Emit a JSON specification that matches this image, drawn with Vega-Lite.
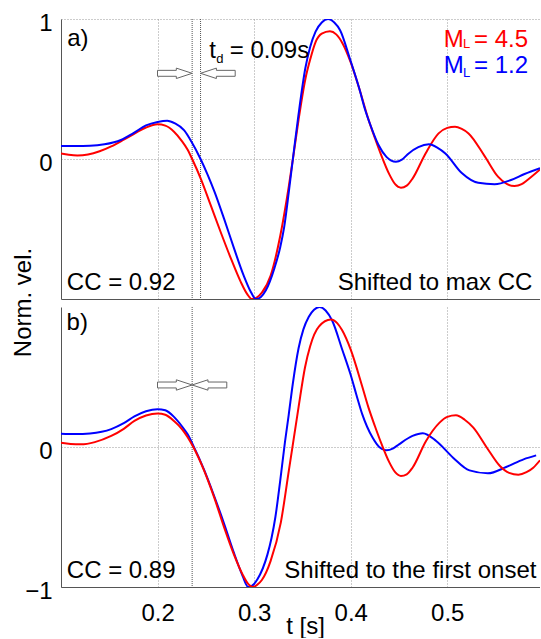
{
  "$schema": "https://vega.github.io/schema/vega-lite/v6.json",
  "padding": {"left": 11, "top": 11, "right": 0, "bottom": 0},
  "spacing": 8,
  "bounds": "flush",
  "config": {
    "view": {"stroke": null},
    "font": "Liberation Sans",
    "axis": {
      "labelFont": "Liberation Sans", "titleFont": "Liberation Sans",
      "labelFontSize": 24, "titleFontSize": 24, "labelColor": "#000", "titleColor": "#000",
      "titleFontWeight": "normal", "domainColor": "#555", "domainWidth": 1, "tickSize": 0,
      "gridColor": "#999", "gridDash": [1, 2], "gridWidth": 1
    },
    "text": {"font": "Liberation Sans", "fontSize": 24}
  },
  "datasets": {
    "curves": [
      {"panel":"a","series":"M_L = 4.5","t":0.100,"v":0.040},{"panel":"a","series":"M_L = 4.5","t":0.108,"v":0.030},{"panel":"a","series":"M_L = 4.5","t":0.117,"v":0.025},{"panel":"a","series":"M_L = 4.5","t":0.128,"v":0.032},{"panel":"a","series":"M_L = 4.5","t":0.140,"v":0.055},{"panel":"a","series":"M_L = 4.5","t":0.152,"v":0.090},{"panel":"a","series":"M_L = 4.5","t":0.165,"v":0.138},{"panel":"a","series":"M_L = 4.5","t":0.177,"v":0.185},{"panel":"a","series":"M_L = 4.5","t":0.188,"v":0.225},{"panel":"a","series":"M_L = 4.5","t":0.200,"v":0.248},{"panel":"a","series":"M_L = 4.5","t":0.208,"v":0.238},{"panel":"a","series":"M_L = 4.5","t":0.217,"v":0.195},{"panel":"a","series":"M_L = 4.5","t":0.225,"v":0.130},{"panel":"a","series":"M_L = 4.5","t":0.231,"v":0.068},{"panel":"a","series":"M_L = 4.5","t":0.2358,"v":0.0},{"panel":"a","series":"M_L = 4.5","t":0.245,"v":-0.145},{"panel":"a","series":"M_L = 4.5","t":0.255,"v":-0.330},{"panel":"a","series":"M_L = 4.5","t":0.2655,"v":-0.525},{"panel":"a","series":"M_L = 4.5","t":0.276,"v":-0.712},{"panel":"a","series":"M_L = 4.5","t":0.286,"v":-0.876},{"panel":"a","series":"M_L = 4.5","t":0.293,"v":-0.967},{"panel":"a","series":"M_L = 4.5","t":0.2976,"v":-1.0},{"panel":"a","series":"M_L = 4.5","t":0.303,"v":-0.988},{"panel":"a","series":"M_L = 4.5","t":0.308,"v":-0.955},{"panel":"a","series":"M_L = 4.5","t":0.317,"v":-0.835},{"panel":"a","series":"M_L = 4.5","t":0.327,"v":-0.550},{"panel":"a","series":"M_L = 4.5","t":0.336,"v":-0.190},{"panel":"a","series":"M_L = 4.5","t":0.341,"v":0.040},{"panel":"a","series":"M_L = 4.5","t":0.346,"v":0.280},{"panel":"a","series":"M_L = 4.5","t":0.353,"v":0.570},{"panel":"a","series":"M_L = 4.5","t":0.358,"v":0.710},{"panel":"a","series":"M_L = 4.5","t":0.3636,"v":0.835},{"panel":"a","series":"M_L = 4.5","t":0.370,"v":0.895},{"panel":"a","series":"M_L = 4.5","t":0.3785,"v":0.912},{"panel":"a","series":"M_L = 4.5","t":0.385,"v":0.890},{"panel":"a","series":"M_L = 4.5","t":0.392,"v":0.820},{"panel":"a","series":"M_L = 4.5","t":0.400,"v":0.690},{"panel":"a","series":"M_L = 4.5","t":0.409,"v":0.500},{"panel":"a","series":"M_L = 4.5","t":0.418,"v":0.290},{"panel":"a","series":"M_L = 4.5","t":0.425,"v":0.150},{"panel":"a","series":"M_L = 4.5","t":0.432,"v":0.020},{"panel":"a","series":"M_L = 4.5","t":0.440,"v":-0.110},{"panel":"a","series":"M_L = 4.5","t":0.446,"v":-0.180},{"panel":"a","series":"M_L = 4.5","t":0.452,"v":-0.205},{"panel":"a","series":"M_L = 4.5","t":0.458,"v":-0.190},{"panel":"a","series":"M_L = 4.5","t":0.464,"v":-0.140},{"panel":"a","series":"M_L = 4.5","t":0.4775,"v":0.040},{"panel":"a","series":"M_L = 4.5","t":0.491,"v":0.183},{"panel":"a","series":"M_L = 4.5","t":0.500,"v":0.222},{"panel":"a","series":"M_L = 4.5","t":0.508,"v":0.231},{"panel":"a","series":"M_L = 4.5","t":0.515,"v":0.215},{"panel":"a","series":"M_L = 4.5","t":0.522,"v":0.183},{"panel":"a","series":"M_L = 4.5","t":0.539,"v":0.017},{"panel":"a","series":"M_L = 4.5","t":0.5525,"v":-0.126},{"panel":"a","series":"M_L = 4.5","t":0.562,"v":-0.180},{"panel":"a","series":"M_L = 4.5","t":0.5696,"v":-0.193},{"panel":"a","series":"M_L = 4.5","t":0.577,"v":-0.180},{"panel":"a","series":"M_L = 4.5","t":0.583,"v":-0.150},{"panel":"a","series":"M_L = 4.5","t":0.596,"v":-0.075},
      {"panel":"a","series":"M_L = 1.2","t":0.100,"v":0.093},{"panel":"a","series":"M_L = 1.2","t":0.115,"v":0.092},{"panel":"a","series":"M_L = 1.2","t":0.130,"v":0.094},{"panel":"a","series":"M_L = 1.2","t":0.145,"v":0.105},{"panel":"a","series":"M_L = 1.2","t":0.162,"v":0.136},{"panel":"a","series":"M_L = 1.2","t":0.175,"v":0.185},{"panel":"a","series":"M_L = 1.2","t":0.188,"v":0.240},{"panel":"a","series":"M_L = 1.2","t":0.200,"v":0.265},{"panel":"a","series":"M_L = 1.2","t":0.210,"v":0.274},{"panel":"a","series":"M_L = 1.2","t":0.218,"v":0.255},{"panel":"a","series":"M_L = 1.2","t":0.2276,"v":0.205},{"panel":"a","series":"M_L = 1.2","t":0.235,"v":0.125},{"panel":"a","series":"M_L = 1.2","t":0.2445,"v":0.0},{"panel":"a","series":"M_L = 1.2","t":0.252,"v":-0.115},{"panel":"a","series":"M_L = 1.2","t":0.259,"v":-0.235},{"panel":"a","series":"M_L = 1.2","t":0.269,"v":-0.430},{"panel":"a","series":"M_L = 1.2","t":0.279,"v":-0.635},{"panel":"a","series":"M_L = 1.2","t":0.289,"v":-0.830},{"panel":"a","series":"M_L = 1.2","t":0.2966,"v":-0.950},{"panel":"a","series":"M_L = 1.2","t":0.3017,"v":-1.0},{"panel":"a","series":"M_L = 1.2","t":0.307,"v":-0.985},{"panel":"a","series":"M_L = 1.2","t":0.312,"v":-0.940},{"panel":"a","series":"M_L = 1.2","t":0.321,"v":-0.780},{"panel":"a","series":"M_L = 1.2","t":0.327,"v":-0.630},{"panel":"a","series":"M_L = 1.2","t":0.331,"v":-0.490},{"panel":"a","series":"M_L = 1.2","t":0.336,"v":-0.230},{"panel":"a","series":"M_L = 1.2","t":0.341,"v":0.050},{"panel":"a","series":"M_L = 1.2","t":0.346,"v":0.320},{"panel":"a","series":"M_L = 1.2","t":0.353,"v":0.648},{"panel":"a","series":"M_L = 1.2","t":0.358,"v":0.800},{"panel":"a","series":"M_L = 1.2","t":0.3636,"v":0.910},{"panel":"a","series":"M_L = 1.2","t":0.370,"v":0.975},{"panel":"a","series":"M_L = 1.2","t":0.3765,"v":1.0},{"panel":"a","series":"M_L = 1.2","t":0.383,"v":0.975},{"panel":"a","series":"M_L = 1.2","t":0.389,"v":0.920},{"panel":"a","series":"M_L = 1.2","t":0.399,"v":0.720},{"panel":"a","series":"M_L = 1.2","t":0.409,"v":0.500},{"panel":"a","series":"M_L = 1.2","t":0.415,"v":0.350},{"panel":"a","series":"M_L = 1.2","t":0.420,"v":0.250},{"panel":"a","series":"M_L = 1.2","t":0.4288,"v":0.100},{"panel":"a","series":"M_L = 1.2","t":0.437,"v":0.015},{"panel":"a","series":"M_L = 1.2","t":0.4468,"v":-0.020},{"panel":"a","series":"M_L = 1.2","t":0.453,"v":-0.005},{"panel":"a","series":"M_L = 1.2","t":0.460,"v":0.040},{"panel":"a","series":"M_L = 1.2","t":0.470,"v":0.085},{"panel":"a","series":"M_L = 1.2","t":0.481,"v":0.105},{"panel":"a","series":"M_L = 1.2","t":0.490,"v":0.080},{"panel":"a","series":"M_L = 1.2","t":0.498,"v":0.040},{"panel":"a","series":"M_L = 1.2","t":0.515,"v":-0.100},{"panel":"a","series":"M_L = 1.2","t":0.532,"v":-0.170},{"panel":"a","series":"M_L = 1.2","t":0.549,"v":-0.180},{"panel":"a","series":"M_L = 1.2","t":0.566,"v":-0.150},{"panel":"a","series":"M_L = 1.2","t":0.580,"v":-0.107},{"panel":"a","series":"M_L = 1.2","t":0.596,"v":-0.065},
      {"panel":"b","series":"M_L = 1.2","t":0.100,"v":0.095},{"panel":"b","series":"M_L = 1.2","t":0.115,"v":0.092},{"panel":"b","series":"M_L = 1.2","t":0.130,"v":0.097},{"panel":"b","series":"M_L = 1.2","t":0.152,"v":0.128},{"panel":"b","series":"M_L = 1.2","t":0.165,"v":0.170},{"panel":"b","series":"M_L = 1.2","t":0.176,"v":0.218},{"panel":"b","series":"M_L = 1.2","t":0.188,"v":0.255},{"panel":"b","series":"M_L = 1.2","t":0.200,"v":0.270},{"panel":"b","series":"M_L = 1.2","t":0.208,"v":0.262},{"panel":"b","series":"M_L = 1.2","t":0.217,"v":0.215},{"panel":"b","series":"M_L = 1.2","t":0.225,"v":0.150},{"panel":"b","series":"M_L = 1.2","t":0.231,"v":0.092},{"panel":"b","series":"M_L = 1.2","t":0.237,"v":0.010},{"panel":"b","series":"M_L = 1.2","t":0.248,"v":-0.160},{"panel":"b","series":"M_L = 1.2","t":0.2586,"v":-0.350},{"panel":"b","series":"M_L = 1.2","t":0.269,"v":-0.550},{"panel":"b","series":"M_L = 1.2","t":0.279,"v":-0.755},{"panel":"b","series":"M_L = 1.2","t":0.288,"v":-0.920},{"panel":"b","series":"M_L = 1.2","t":0.2938,"v":-1.0},{"panel":"b","series":"M_L = 1.2","t":0.298,"v":-0.990},{"panel":"b","series":"M_L = 1.2","t":0.3034,"v":-0.945},{"panel":"b","series":"M_L = 1.2","t":0.3138,"v":-0.767},{"panel":"b","series":"M_L = 1.2","t":0.318,"v":-0.650},{"panel":"b","series":"M_L = 1.2","t":0.322,"v":-0.500},{"panel":"b","series":"M_L = 1.2","t":0.327,"v":-0.240},{"panel":"b","series":"M_L = 1.2","t":0.332,"v":0.040},{"panel":"b","series":"M_L = 1.2","t":0.3358,"v":0.230},{"panel":"b","series":"M_L = 1.2","t":0.340,"v":0.450},{"panel":"b","series":"M_L = 1.2","t":0.346,"v":0.705},{"panel":"b","series":"M_L = 1.2","t":0.351,"v":0.840},{"panel":"b","series":"M_L = 1.2","t":0.3566,"v":0.930},{"panel":"b","series":"M_L = 1.2","t":0.362,"v":0.980},{"panel":"b","series":"M_L = 1.2","t":0.3677,"v":1.0},{"panel":"b","series":"M_L = 1.2","t":0.374,"v":0.975},{"panel":"b","series":"M_L = 1.2","t":0.381,"v":0.900},{"panel":"b","series":"M_L = 1.2","t":0.391,"v":0.700},{"panel":"b","series":"M_L = 1.2","t":0.400,"v":0.514},{"panel":"b","series":"M_L = 1.2","t":0.406,"v":0.370},{"panel":"b","series":"M_L = 1.2","t":0.412,"v":0.233},{"panel":"b","series":"M_L = 1.2","t":0.4226,"v":0.067},{"panel":"b","series":"M_L = 1.2","t":0.4295,"v":0.0},{"panel":"b","series":"M_L = 1.2","t":0.437,"v":-0.024},{"panel":"b","series":"M_L = 1.2","t":0.444,"v":-0.010},{"panel":"b","series":"M_L = 1.2","t":0.450,"v":0.019},{"panel":"b","series":"M_L = 1.2","t":0.464,"v":0.079},{"panel":"b","series":"M_L = 1.2","t":0.4747,"v":0.098},{"panel":"b","series":"M_L = 1.2","t":0.4885,"v":0.043},{"panel":"b","series":"M_L = 1.2","t":0.506,"v":-0.076},{"panel":"b","series":"M_L = 1.2","t":0.523,"v":-0.167},{"panel":"b","series":"M_L = 1.2","t":0.542,"v":-0.188},{"panel":"b","series":"M_L = 1.2","t":0.561,"v":-0.143},{"panel":"b","series":"M_L = 1.2","t":0.579,"v":-0.088},{"panel":"b","series":"M_L = 1.2","t":0.592,"v":-0.060},
      {"panel":"b","series":"M_L = 4.5","t":0.100,"v":0.031},{"panel":"b","series":"M_L = 4.5","t":0.110,"v":0.022},{"panel":"b","series":"M_L = 4.5","t":0.1207,"v":0.019},{"panel":"b","series":"M_L = 4.5","t":0.135,"v":0.035},{"panel":"b","series":"M_L = 4.5","t":0.152,"v":0.079},{"panel":"b","series":"M_L = 4.5","t":0.165,"v":0.130},{"panel":"b","series":"M_L = 4.5","t":0.176,"v":0.186},{"panel":"b","series":"M_L = 4.5","t":0.188,"v":0.225},{"panel":"b","series":"M_L = 4.5","t":0.200,"v":0.240},{"panel":"b","series":"M_L = 4.5","t":0.208,"v":0.230},{"panel":"b","series":"M_L = 4.5","t":0.217,"v":0.186},{"panel":"b","series":"M_L = 4.5","t":0.225,"v":0.130},{"panel":"b","series":"M_L = 4.5","t":0.231,"v":0.072},{"panel":"b","series":"M_L = 4.5","t":0.237,"v":0.0},{"panel":"b","series":"M_L = 4.5","t":0.248,"v":-0.165},{"panel":"b","series":"M_L = 4.5","t":0.2586,"v":-0.360},{"panel":"b","series":"M_L = 4.5","t":0.269,"v":-0.576},{"panel":"b","series":"M_L = 4.5","t":0.279,"v":-0.767},{"panel":"b","series":"M_L = 4.5","t":0.288,"v":-0.910},{"panel":"b","series":"M_L = 4.5","t":0.294,"v":-0.980},{"panel":"b","series":"M_L = 4.5","t":0.2983,"v":-1.0},{"panel":"b","series":"M_L = 4.5","t":0.303,"v":-0.985},{"panel":"b","series":"M_L = 4.5","t":0.308,"v":-0.950},{"panel":"b","series":"M_L = 4.5","t":0.317,"v":-0.815},{"panel":"b","series":"M_L = 4.5","t":0.3276,"v":-0.540},{"panel":"b","series":"M_L = 4.5","t":0.336,"v":-0.165},{"panel":"b","series":"M_L = 4.5","t":0.341,"v":0.060},{"panel":"b","series":"M_L = 4.5","t":0.346,"v":0.285},{"panel":"b","series":"M_L = 4.5","t":0.3527,"v":0.570},{"panel":"b","series":"M_L = 4.5","t":0.358,"v":0.720},{"panel":"b","series":"M_L = 4.5","t":0.367,"v":0.860},{"panel":"b","series":"M_L = 4.5","t":0.3795,"v":0.910},{"panel":"b","series":"M_L = 4.5","t":0.386,"v":0.885},{"panel":"b","series":"M_L = 4.5","t":0.391,"v":0.835},{"panel":"b","series":"M_L = 4.5","t":0.400,"v":0.695},{"panel":"b","series":"M_L = 4.5","t":0.412,"v":0.430},{"panel":"b","series":"M_L = 4.5","t":0.418,"v":0.290},{"panel":"b","series":"M_L = 4.5","t":0.425,"v":0.150},{"panel":"b","series":"M_L = 4.5","t":0.432,"v":0.020},{"panel":"b","series":"M_L = 4.5","t":0.440,"v":-0.110},{"panel":"b","series":"M_L = 4.5","t":0.446,"v":-0.180},{"panel":"b","series":"M_L = 4.5","t":0.452,"v":-0.207},{"panel":"b","series":"M_L = 4.5","t":0.458,"v":-0.195},{"panel":"b","series":"M_L = 4.5","t":0.464,"v":-0.148},{"panel":"b","series":"M_L = 4.5","t":0.478,"v":0.043},{"panel":"b","series":"M_L = 4.5","t":0.492,"v":0.174},{"panel":"b","series":"M_L = 4.5","t":0.500,"v":0.215},{"panel":"b","series":"M_L = 4.5","t":0.509,"v":0.226},{"panel":"b","series":"M_L = 4.5","t":0.518,"v":0.195},{"panel":"b","series":"M_L = 4.5","t":0.527,"v":0.138},{"panel":"b","series":"M_L = 4.5","t":0.541,"v":-0.005},{"panel":"b","series":"M_L = 4.5","t":0.5545,"v":-0.136},{"panel":"b","series":"M_L = 4.5","t":0.564,"v":-0.185},{"panel":"b","series":"M_L = 4.5","t":0.5736,"v":-0.198},{"panel":"b","series":"M_L = 4.5","t":0.582,"v":-0.180},{"panel":"b","series":"M_L = 4.5","t":0.589,"v":-0.148},{"panel":"b","series":"M_L = 4.5","t":0.596,"v":-0.095}
    ],
    "markers": [
      {"panel":"a","t":0.2358},{"panel":"a","t":0.2445},{"panel":"b","t":0.2358}
    ],
    "arrows": [
      {"panel":"a","dir":"right","t":0.2358,"v":0.612},{"panel":"a","dir":"left","t":0.2445,"v":0.612},
      {"panel":"b","dir":"right","t":0.2358,"v":0.443},{"panel":"b","dir":"left","t":0.2358,"v":0.443}
    ],
    "texts": [
      {"panel":"a","series":"note","t":0.1065,"v":0.807,"label":"a)"},
      {"panel":"a","series":"note","t":0.2534,"v":0.719,"label":"t"},
      {"panel":"a","series":"note","t":0.2748,"v":0.719,"label":"= 0.09s"},
      {"panel":"a","series":"M_L = 4.5","t":0.4964,"v":0.802,"label":"M"},
      {"panel":"a","series":"M_L = 4.5","t":0.5276,"v":0.802,"label":"= 4.5"},
      {"panel":"a","series":"M_L = 1.2","t":0.4964,"v":0.612,"label":"M"},
      {"panel":"a","series":"M_L = 1.2","t":0.5276,"v":0.612,"label":"= 1.2"},
      {"panel":"a","series":"note","t":0.106,"v":-0.936,"label":"CC = 0.92"},
      {"panel":"a","series":"note","t":0.3865,"v":-0.936,"label":"Shifted to max CC"},
      {"panel":"b","series":"note","t":0.1058,"v":0.836,"label":"b)"},
      {"panel":"b","series":"note","t":0.106,"v":-0.938,"label":"CC = 0.89"},
      {"panel":"b","series":"note","t":0.3312,"v":-0.938,"label":"Shifted to the first onset"}
    ],
    "subs": [
      {"panel":"a","series":"note","t":0.2608,"v":0.686,"label":"d"},
      {"panel":"a","series":"M_L = 4.5","t":0.5162,"v":0.791,"label":"L"},
      {"panel":"a","series":"M_L = 1.2","t":0.5162,"v":0.588,"label":"L"}
    ]
  },
  "vconcat": [
    {
      "width": 479, "height": 280,
      "layer": [
        {
          "data": {"name": "markers"},
          "transform": [{"filter": "datum.panel == 'a'"}],
          "mark": {"type": "rule", "color": "#555", "strokeDash": [1, 1], "strokeWidth": 1},
          "encoding": {
            "x": {"field": "t", "type": "quantitative", "scale": {"domain": [0.1, 0.596], "nice": false, "zero": false},
                  "axis": {"values": [0.2, 0.3, 0.4, 0.5], "labels": false, "title": null, "grid": true, "domain": true}}
          }
        },
        {
          "data": {"name": "curves"},
          "transform": [{"filter": "datum.panel == 'a' && datum.series == 'M_L = 4.5'"}],
          "mark": {"type": "line", "clip": true, "color": "#ff0000", "strokeWidth": 2, "interpolate": "monotone"},
          "encoding": {
            "x": {"field": "t", "type": "quantitative"},
            "y": {"field": "v", "type": "quantitative", "scale": {"domain": [-1, 1], "nice": false},
                  "axis": {"values": [0, 1], "format": "d", "grid": true, "domain": true, "labelPadding": 9, "labelOffset": 4,
                           "title": "Norm. vel.", "titleX": -31, "titleY": 283, "titleBaseline": "alphabetic", "titleAlign": "center", "titleAngle": -90}}
          }
        },
        {
          "data": {"name": "curves"},
          "transform": [{"filter": "datum.panel == 'a' && datum.series == 'M_L = 1.2'"}],
          "mark": {"type": "line", "clip": true, "color": "#0000ff", "strokeWidth": 2, "interpolate": "monotone"},
          "encoding": {"x": {"field": "t", "type": "quantitative"}, "y": {"field": "v", "type": "quantitative"}}
        },
        {
          "mark": {"type": "rule", "color": "#555", "strokeWidth": 1},
          "encoding": {"y": {"datum": 1}}
        },
        {
          "data": {"name": "arrows"},
          "transform": [{"filter": "datum.panel == 'a' && datum.dir == 'right'"}],
          "mark": {"type": "point", "shape": "M0,0 L-0.914,-0.3 L-0.914,-0.171 L-2,-0.171 L-2,0.171 L-0.914,0.171 L-0.914,0.3 Z", "size": 1200, "filled": false, "fill": "#ffffff", "fillOpacity": 1, "stroke": "#666", "strokeWidth": 1, "opacity": 1},
          "encoding": {"x": {"field": "t", "type": "quantitative"}, "y": {"field": "v", "type": "quantitative"}}
        },
        {
          "data": {"name": "arrows"},
          "transform": [{"filter": "datum.panel == 'a' && datum.dir == 'left'"}],
          "mark": {"type": "point", "shape": "M0,0 L0.914,-0.3 L0.914,-0.171 L2,-0.171 L2,0.171 L0.914,0.171 L0.914,0.3 Z", "size": 1200, "filled": false, "fill": "#ffffff", "fillOpacity": 1, "stroke": "#666", "strokeWidth": 1, "opacity": 1},
          "encoding": {"x": {"field": "t", "type": "quantitative"}, "y": {"field": "v", "type": "quantitative"}}
        },
        {
          "data": {"name": "texts"},
          "transform": [{"filter": "datum.panel == 'a'"}],
          "mark": {"type": "text", "align": "left", "baseline": "alphabetic", "fontSize": 24},
          "encoding": {
            "x": {"field": "t", "type": "quantitative"}, "y": {"field": "v", "type": "quantitative"},
            "text": {"field": "label"},
            "color": {"field": "series", "type": "nominal", "scale": {"domain": ["M_L = 4.5", "M_L = 1.2", "note"], "range": ["#ff0000", "#0000ff", "#000000"]}, "legend": null}
          }
        },
        {
          "data": {"name": "subs"},
          "transform": [{"filter": "datum.panel == 'a'"}],
          "mark": {"type": "text", "align": "left", "baseline": "alphabetic", "fontSize": 13},
          "encoding": {
            "x": {"field": "t", "type": "quantitative"}, "y": {"field": "v", "type": "quantitative"},
            "text": {"field": "label"},
            "color": {"field": "series", "type": "nominal", "scale": {"domain": ["M_L = 4.5", "M_L = 1.2", "note"], "range": ["#ff0000", "#0000ff", "#000000"]}, "legend": null}
          }
        }
      ]
    },
    {
      "width": 479, "height": 280,
      "layer": [
        {
          "data": {"name": "markers"},
          "transform": [{"filter": "datum.panel == 'b'"}],
          "mark": {"type": "rule", "color": "#555", "strokeDash": [1, 1], "strokeWidth": 1},
          "encoding": {
            "x": {"field": "t", "type": "quantitative", "scale": {"domain": [0.1, 0.596], "nice": false, "zero": false},
                  "axis": {"values": [0.2, 0.3, 0.4, 0.5], "format": ".1f", "grid": true, "domain": true, "labelPadding": 33, "labelBaseline": "alphabetic",
                           "title": "t [s]", "titleX": 244, "titleY": 46, "titleBaseline": "alphabetic", "titleAlign": "center"}}
          }
        },
        {
          "data": {"name": "curves"},
          "transform": [{"filter": "datum.panel == 'b' && datum.series == 'M_L = 1.2'"}],
          "mark": {"type": "line", "clip": true, "color": "#0000ff", "strokeWidth": 2, "interpolate": "monotone"},
          "encoding": {
            "x": {"field": "t", "type": "quantitative"},
            "y": {"field": "v", "type": "quantitative", "scale": {"domain": [-1, 1], "nice": false},
                  "axis": {"values": [-1, 0], "format": "d", "grid": true, "domain": true, "labelPadding": 9, "labelOffset": 4, "title": null}}
          }
        },
        {
          "data": {"name": "curves"},
          "transform": [{"filter": "datum.panel == 'b' && datum.series == 'M_L = 4.5'"}],
          "mark": {"type": "line", "clip": true, "color": "#ff0000", "strokeWidth": 2, "interpolate": "monotone"},
          "encoding": {"x": {"field": "t", "type": "quantitative"}, "y": {"field": "v", "type": "quantitative"}}
        },
        {
          "mark": {"type": "rule", "color": "#555", "strokeWidth": 1},
          "encoding": {"y": {"datum": 1}}
        },
        {
          "data": {"name": "arrows"},
          "transform": [{"filter": "datum.panel == 'b' && datum.dir == 'right'"}],
          "mark": {"type": "point", "shape": "M0,0 L-0.914,-0.3 L-0.914,-0.171 L-2,-0.171 L-2,0.171 L-0.914,0.171 L-0.914,0.3 Z", "size": 1200, "filled": false, "fill": "#ffffff", "fillOpacity": 1, "stroke": "#666", "strokeWidth": 1, "opacity": 1},
          "encoding": {"x": {"field": "t", "type": "quantitative"}, "y": {"field": "v", "type": "quantitative"}}
        },
        {
          "data": {"name": "arrows"},
          "transform": [{"filter": "datum.panel == 'b' && datum.dir == 'left'"}],
          "mark": {"type": "point", "shape": "M0,0 L0.914,-0.3 L0.914,-0.171 L2,-0.171 L2,0.171 L0.914,0.171 L0.914,0.3 Z", "size": 1200, "filled": false, "fill": "#ffffff", "fillOpacity": 1, "stroke": "#666", "strokeWidth": 1, "opacity": 1},
          "encoding": {"x": {"field": "t", "type": "quantitative"}, "y": {"field": "v", "type": "quantitative"}}
        },
        {
          "data": {"name": "texts"},
          "transform": [{"filter": "datum.panel == 'b'"}],
          "mark": {"type": "text", "align": "left", "baseline": "alphabetic", "fontSize": 24},
          "encoding": {
            "x": {"field": "t", "type": "quantitative"}, "y": {"field": "v", "type": "quantitative"},
            "text": {"field": "label"},
            "color": {"field": "series", "type": "nominal", "scale": {"domain": ["M_L = 4.5", "M_L = 1.2", "note"], "range": ["#ff0000", "#0000ff", "#000000"]}, "legend": null}
          }
        }
      ]
    }
  ]
}
